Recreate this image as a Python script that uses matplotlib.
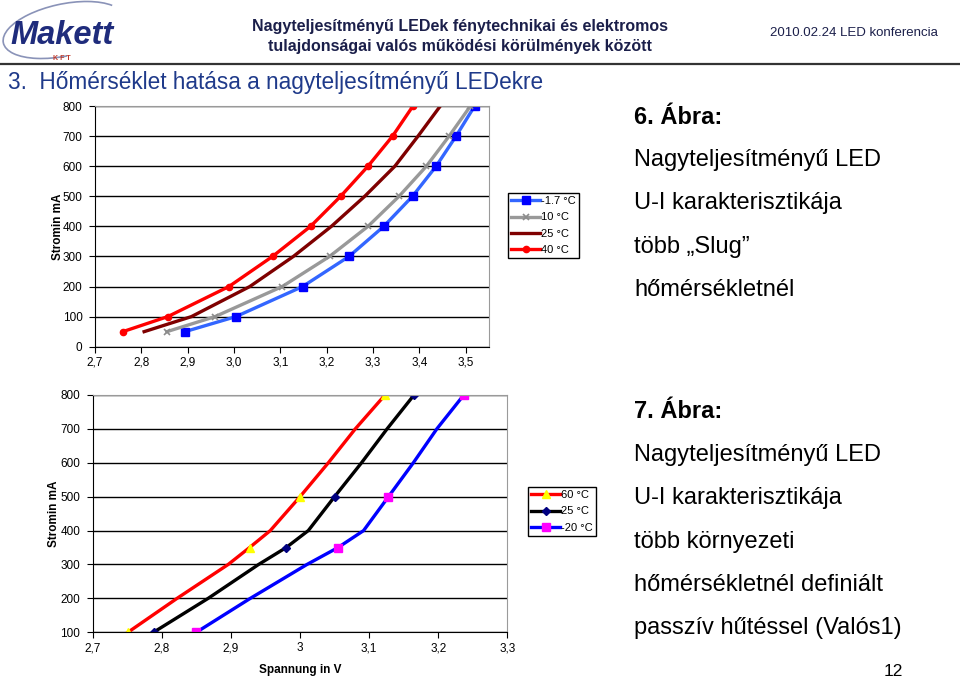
import matplotlib.pyplot as plt
from matplotlib.patches import Arc

## DATA ##
# 6. Abra - U-I curves at several slug temperatures
top_current = [50, 100, 200, 300, 400, 500, 600, 700, 800]
u_m17 = [2.894, 3.004, 3.148, 3.248, 3.323, 3.385, 3.436, 3.479, 3.519]
u_10 = [2.855, 2.959, 3.104, 3.206, 3.289, 3.356, 3.415, 3.464, 3.510]
u_25 = [2.806, 2.908, 3.034, 3.128, 3.210, 3.282, 3.347, 3.397, 3.445]
u_40 = [2.760, 2.857, 2.989, 3.083, 3.165, 3.230, 3.289, 3.342, 3.386]
top_labels = ['-1.7 °C', '10 °C', '25 °C', '40 °C']
top_xticks = [2.7, 2.8, 2.9, 3.0, 3.1, 3.2, 3.3, 3.4, 3.5]
top_xticklabels = ['2,7', '2,8', '2,9', '3,0', '3,1', '3,2', '3,3', '3,4', '3,5']

# 7. Abra - U-I curves at several ambient temperatures
bot_current = [100, 200, 300, 350, 400, 500, 600, 700, 800]
u_60 = [2.751, 2.822, 2.896, 2.927, 2.957, 3.000, 3.041, 3.080, 3.123]
u_25b = [2.788, 2.867, 2.940, 2.980, 3.012, 3.050, 3.089, 3.126, 3.165]
u_m20 = [2.850, 2.928, 3.010, 3.055, 3.092, 3.128, 3.164, 3.198, 3.237]
bot_labels = ['60 °C', '25 °C', '-20 °C']
bot_marked = [0, 3, 5, 8]
bot_xticks = [2.7, 2.8, 2.9, 3.0, 3.1, 3.2, 3.3]
bot_xticklabels = ['2,7', '2,8', '2,9', '3', '3,1', '3,2', '3,3']

plt.rcParams['font.family'] = ['Liberation Sans', 'DejaVu Sans']

fig = plt.figure(figsize=(9.6, 6.81), dpi=100)

## slide decoration, drawn in pixel coords ##
bg = fig.add_axes([0, 0, 1, 1])
bg.set_xlim(0, 960)
bg.set_ylim(681, 0)
bg.axis('off')

bg.add_patch(Arc((64, 30), 124, 52, angle=-12, theta1=95, theta2=345,
                 color='#8a93b8', lw=1.2))
bg.text(10, 35, 'Makett', style='italic', weight='bold',
        fontsize=23.5, color='#1f2c7c', va='center', ha='left')
bg.text(62, 59, 'K F T', weight='bold', fontsize=5,
        color='#c0392b', va='center', ha='center')

bg.text(460, 27, 'Nagyteljesítményű LEDek fénytechnikai és elektromos',
        weight='bold', fontsize=11.5, color='#1b1f4a',
        ha='center', va='center')
bg.text(460, 46, 'tulajdonságai valós működési körülmények között',
        weight='bold', fontsize=11.5, color='#1b1f4a',
        ha='center', va='center')
bg.text(938, 33, '2010.02.24 LED konferencia', fontsize=9.5,
        color='#1b1f4a', ha='right', va='center')
bg.plot([0, 960], [64, 64], color='#333333', lw=1.6)
bg.text(8, 83, '3.  Hőmérséklet hatása a nagyteljesítményű LEDekre',
        fontsize=16.3, color='#1f3a8a', ha='left', va='center')

# right-hand captions
bg.text(634, 118, '6. Ábra:', fontsize=17, weight='bold', va='center')
for k, s in enumerate(['Nagyteljesítményű LED', 'U-I karakterisztikája',
                       'több „Slug”', 'hőmérsékletnél']):
    bg.text(634, 160 + k * 43.3, s, fontsize=17, va='center')
bg.text(634, 412, '7. Ábra:', fontsize=17, weight='bold', va='center')
for k, s in enumerate(['Nagyteljesítményű LED', 'U-I karakterisztikája',
                       'több környezeti', 'hőmérsékletnél definiált',
                       'passzív hűtéssel (Valós1)']):
    bg.text(634, 455 + k * 43.3, s, fontsize=17, va='center')
bg.text(893, 672, '12', fontsize=12.5, ha='center', va='center')


def style_axes(ax):
    ax.grid(axis='y', color='black', lw=1)
    ax.set_axisbelow(True)
    for side in ['left', 'bottom']:
        ax.spines[side].set_color('black')
    for side in ['top', 'right']:
        ax.spines[side].set_color('#9a9a9a')
    ax.tick_params(direction='out', length=4, labelsize=8.5, pad=3,
                   width=0.8)
    ax.tick_params(axis='y', pad=5)


leg_kw = dict(loc='upper left', fontsize=8, frameon=True, fancybox=False,
              edgecolor='black', framealpha=1, handlelength=2.6,
              handletextpad=0.1, labelspacing=0.55, borderpad=0.3,
              borderaxespad=0)

## TOP CHART ##
ax1 = fig.add_axes([95 / 960, 1 - 346.7 / 681, 394 / 960, 240.7 / 681])
ax1.plot(u_m17, top_current, color='#3366ff', lw=2.4, marker='s', ms=6,
         mfc='#0000ff', mec='#0000ff', label=top_labels[0])
ax1.plot(u_10, top_current, color='#999999', lw=2.4, marker='x', ms=5,
         mew=1.2, mec='#8c8c8c', label=top_labels[1])
ax1.plot(u_25, top_current, color='#7f0000', lw=2.4, label=top_labels[2])
ax1.plot(u_40, top_current, color='#ff0000', lw=2.4, marker='o', ms=4.5,
         mfc='#ff0000', mec='#ff0000', label=top_labels[3])
ax1.set_xlim(2.7, 3.55)
ax1.set_ylim(0, 800)
ax1.set_xticks(top_xticks)
ax1.set_xticklabels(top_xticklabels)
ax1.set_yticks(range(0, 801, 100))
ax1.set_ylabel('Stromin mA', fontsize=8.5, weight='bold', labelpad=-1)
style_axes(ax1)
fig.legend(handles=ax1.get_lines(), bbox_to_anchor=(508 / 960, 1 - 193 / 681),
           **leg_kw)

## BOTTOM CHART ##
ax2 = fig.add_axes([92.7 / 960, 1 - 632.3 / 681, 414.6 / 960, 237.3 / 681])
ax2.plot(u_60, bot_current, color='#ff0000', lw=2.4, marker='^', ms=6,
         mfc='#ffff00', mec='#ffff00', markevery=bot_marked,
         label=bot_labels[0])
ax2.plot(u_25b, bot_current, color='black', lw=2.4, marker='D', ms=4.5,
         mfc='#000080', mec='#000080', markevery=bot_marked,
         label=bot_labels[1])
ax2.plot(u_m20, bot_current, color='#0000ff', lw=2.4, marker='s', ms=6,
         mfc='#ff00ff', mec='#ff00ff', markevery=bot_marked,
         label=bot_labels[2])
ax2.set_xlim(2.7, 3.3)
ax2.set_ylim(100, 800)
ax2.set_xticks(bot_xticks)
ax2.set_xticklabels(bot_xticklabels)
ax2.set_yticks(range(100, 801, 100))
ax2.set_ylabel('Stromin mA', fontsize=8.5, weight='bold', labelpad=0)
ax2.set_xlabel('Spannung in V', fontsize=8.5, weight='bold', labelpad=7)
style_axes(ax2)
fig.legend(handles=ax2.get_lines(), bbox_to_anchor=(528 / 960, 1 - 487 / 681),
           **leg_kw)

fig.savefig('out.png', dpi=100)
